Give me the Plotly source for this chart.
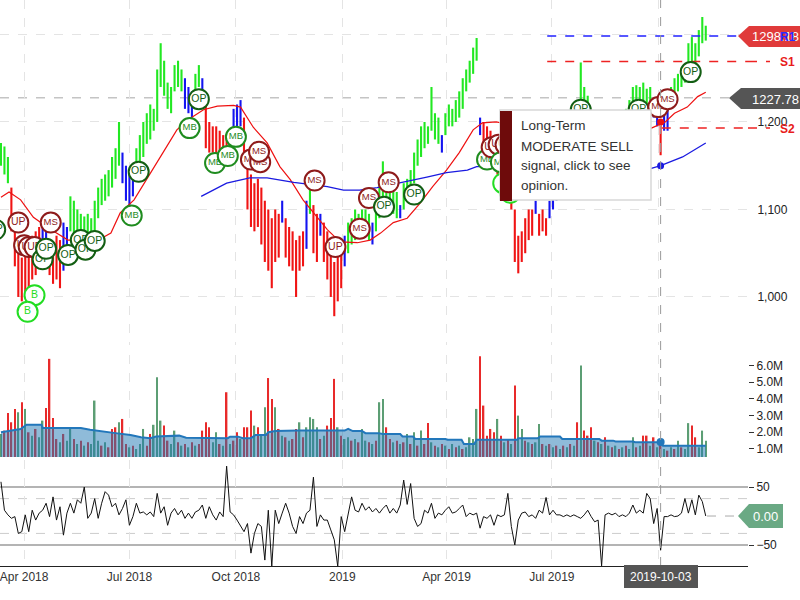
import plotly.graph_objects as go
import pandas as pd

W, H = 800, 600
def px(x): return x / W
def py(y): return 1 - y / H

# ---------------- data ----------------
bar_start = "2018-03-12"
bar_step_days = 3
price_high = [1176,1172,1160,1125,1090,1060,1045,1050,1065,1070,
              1075,1080,1085,1080,1065,1060,1070,1065,1085,1080,
              1115,1110,1100,1095,1092,1095,1090,1110,1125,1135,
              1140,1145,1160,1170,1200,1165,1150,1145,1150,1170,
              1185,1200,1210,1220,1215,1260,1290,1270,1245,1240,
              1265,1270,1260,1250,1240,1235,1255,1265,1250,1220,
              1200,1195,1195,1190,1185,1185,1180,1215,1220,1225,
              1205,1160,1140,1130,1135,1125,1110,1100,1090,1100,
              1095,1110,1090,1080,1075,1065,1070,1075,1110,1130,
              1105,1095,1095,1085,1075,1060,1040,1050,1065,1070,
              1085,1090,1100,1095,1100,1100,1095,1085,1110,1130,
              1155,1135,1130,1125,1120,1105,1130,1135,1145,1165,
              1180,1195,1200,1195,1240,1210,1205,1185,1210,1220,
              1215,1225,1235,1250,1260,1270,1285,1296,1205,1200,
              1195,1190,1185,1180,1170,1160,1150,1140,1100,1070,
              1075,1090,1100,1100,1110,1095,1100,1090,1110,1125,
              1130,1145,1150,1155,1150,1145,1150,1268,1240,1230,
              1210,1190,1195,1200,1190,1185,1180,1195,1200,1205,
              1215,1225,1240,1242,1240,1245,1238,1240,1225,1215,
              1202,1215,1220,1240,1250,1255,1262,1265,1290,1297,
              1290,1305,1320,1310]
price_low = [1150,1140,1130,1075,1035,1000,995,1005,1010,1020,
             1025,1040,1045,1040,1025,1015,1020,1010,1030,1040,
             1075,1065,1070,1065,1068,1068,1065,1075,1090,1105,
             1110,1115,1125,1135,1150,1130,1110,1105,1115,1135,
             1150,1160,1175,1180,1190,1200,1240,1230,1215,1210,
             1235,1240,1235,1215,1210,1205,1230,1240,1215,1170,
             1165,1165,1160,1160,1155,1150,1150,1185,1190,1195,
             1160,1100,1080,1075,1080,1060,1040,1030,1010,1040,
             1045,1085,1045,1035,1030,1000,1030,1035,1055,1095,
             1050,1040,1070,1040,1020,1000,978,995,1010,1035,
             1050,1060,1065,1070,1075,1070,1065,1060,1075,1090,
             1110,1100,1100,1095,1090,1090,1100,1110,1115,1130,
             1150,1160,1170,1175,1190,1180,1175,1165,1185,1195,
             1195,1200,1205,1215,1235,1245,1255,1270,1185,1170,
             1160,1150,1145,1140,1130,1120,1110,1100,1040,1027,
             1040,1050,1065,1070,1095,1070,1075,1070,1090,1100,
             1110,1120,1130,1135,1130,1125,1130,1220,1210,1200,
             1170,1150,1160,1165,1155,1150,1150,1165,1175,1180,
             1190,1200,1210,1215,1215,1220,1215,1215,1205,1195,
             1162,1190,1190,1215,1225,1235,1240,1245,1255,1260,
             1265,1275,1290,1293]
price_trend = ("GGGRRRRRRR" "RRBBRRRRBB" "GGGGGGGGGG" "GGGGGBBBBG" "GGGGGGGGGG"
               "GGGBBBGGBR" "RRRRRRRBBB" "RRRRRRRRRR" "RBRRRRRRBG" "RRBRRRRRRB"
               "GGGGGGGBGG" "GGGGGBGGGG" "GGGGGGGBGG" "GGGGGGGGBR" "RRRRRRRRRR"
               "RRRRBRRRBB" "BGGGGGGGGG" "RRRRRRRBBB" "GGGGGGGGBB" "RBBGGGGGGG"
               "GGGG")

volume_m = [1.9,2.1,3.15,2.6,3.4,3.2,3.8,3.4,2.0,1.8,2.2,1.7,
            2.7,3.45,6.4,2.86,1.6,1.4,1.9,1.5,2.3,1.6,1.3,1.5,
            1.2,1.4,1.3,3.9,1.5,1.2,1.4,1.1,2.2,2.3,2.6,2.8,
            1.3,1.1,1.2,1.0,1.3,2.2,1.2,1.9,2.45,5.3,2.7,2.4,
            1.5,1.3,2.1,1.4,1.2,1.3,1.1,1.4,1.2,1.3,2.1,2.6,
            2.3,1.4,2.0,1.3,1.2,4.4,1.3,1.5,2.0,1.6,2.3,2.3,
            3.3,2.4,2.3,1.8,3.5,5.25,4.0,3.5,2.2,1.8,1.7,1.5,
            1.6,2.2,2.6,1.7,2.3,2.9,2.8,2.3,1.6,1.8,2.4,2.86,
            5.2,2.3,1.8,1.6,1.7,1.5,1.6,1.4,2.2,1.5,1.4,1.3,
            1.5,3.8,4.0,2.3,1.6,1.4,1.5,1.3,1.4,1.9,1.3,2.0,
            1.2,2.1,1.3,2.55,1.4,1.2,1.1,1.3,1.2,1.0,1.3,1.1,
            1.2,1.0,1.1,1.7,1.6,3.4,6.55,3.6,1.8,2.2,2.0,2.8,
            1.8,1.4,1.6,1.3,4.8,3.0,2.2,1.5,1.4,1.3,1.4,2.5,
            1.3,1.2,1.3,1.1,1.2,1.0,1.2,1.1,1.3,1.2,2.6,6.0,
            2.1,1.8,2.3,1.5,1.4,1.3,1.7,1.2,1.1,1.2,1.0,1.1,
            1.2,1.0,1.7,1.1,1.2,1.8,1.8,1.2,1.7,1.1,1.6,1.0,
            0.9,1.1,1.0,1.5,1.1,1.0,2.55,2.4,1.7,1.1,2.1,1.5]
volume_dir = ("GRRRRGRGRGRG" "GRRRRGRGGRGR" "GRGGGRGRRRGR" "RGRGGGRRGGGR"
              "RGGRGRGRGRRR" "RGGRGRGRRGRR" "RGRGGRRGRGRG" "RRGRGGGGRGRR"
              "RGRGGRGRGGRG" "RGGRRGRGRGRG" "RGRRGRGRGRGR" "GRGGGGRRRRRG"
              "RGRGRGGRGRGG" "RGRGRGRGRGRG" "RRRGRGRGRGRG" "RGGRGRRGRGRG"
              "RGRGRGGRRGGG")

oscillator = [59,10,2,-4,-1,-30,-27,2,-27,10,
              -7,5,10,22,-1,33,-7,16,-33,5,
              22,5,28,22,50,-4,5,30,-4,22,
              42,36,16,22,2,13,28,-16,-1,22,
              5,7,2,7,-1,39,5,16,-16,5,
              13,2,10,-4,5,-4,7,10,19,-4,
              16,2,-7,7,-1,86,7,2,-7,-18,
              -27,-13,-64,-30,-13,-18,-76,10,-87,10,
              -13,5,22,5,-18,-30,-1,-13,5,10,
              67,-18,2,-7,-7,-24,-41,-87,-1,-27,
              5,33,10,7,22,10,16,7,13,5,
              13,19,5,13,5,19,62,20,56,-4,
              -18,-13,10,5,22,-4,5,2,10,16,
              5,7,13,19,-1,5,2,5,-21,-1,
              -4,2,-16,2,-1,2,39,-18,-50,-7,
              5,7,-1,2,-4,10,5,32,2,10,
              2,2,-1,2,-1,2,-1,-4,2,10,
              -1,-10,-7,-86,2,5,2,5,-1,2,
              -1,5,19,5,10,5,39,30,-13,13,
              -59,-1,-1,2,-1,0,5,30,5,28,
              2,36,25,0]

ma_short_dates = ["2018-03-12","2018-03-19","2018-03-29","2018-04-09","2018-04-24","2018-05-09",
                  "2018-05-17","2018-05-31","2018-06-15","2018-06-23","2018-07-05","2018-07-19",
                  "2018-07-30","2018-08-11","2018-08-20","2018-09-03","2018-09-15","2018-09-29",
                  "2018-10-05","2018-10-16","2018-10-28","2018-11-08","2018-11-17","2018-11-28",
                  "2018-12-10","2018-12-19","2018-12-30","2019-01-14","2019-01-25","2019-02-03",
                  "2019-02-14","2019-02-26","2019-03-09","2019-03-20","2019-04-01","2019-04-12",
                  "2019-04-24","2019-05-02","2019-05-14","2019-06-01","2019-06-15","2019-07-01",
                  "2019-07-15","2019-08-01","2019-08-15","2019-09-01","2019-09-15","2019-09-25",
                  "2019-10-07","2019-10-15","2019-10-26","2019-11-04","2019-11-11"]
ma_short_vals = [1114,1120,1111,1091,1077,1065,1065,1062,1073,1096,1111,1142,
                 1165,1191,1202,1214,1218,1219,1217,1194,1176,1149,1134,1111,
                 1091,1077,1063,1062,1065,1073,1085,1090,1107,1126,1145,1165,
                 1191,1199,1200,1195,1165,1120,1115,1135,1160,1175,1185,1193,
                 1200,1210,1217,1229,1234]

ma_long_dates = ["2018-09-01","2018-09-23","2018-10-13","2018-10-28","2018-11-20","2018-12-19",
                 "2019-01-02","2019-01-16","2019-01-31","2019-02-23","2019-03-15","2019-04-01",
                 "2019-04-19","2019-04-27","2019-06-15","2019-08-01","2019-09-25","2019-10-03",
                 "2019-10-22","2019-11-11"]
ma_long_vals = [1115,1130,1136,1136,1131,1126,1122,1122,1125,1131,1137,1142,
                1145,1149,1150,1148,1147,1150,1160,1176]

vol_ma_dates = ["2018-03-12","2018-03-29","2018-04-03","2018-04-16","2018-04-17","2018-05-20",
                "2018-05-28","2018-06-06","2018-06-19","2018-07-02","2018-07-11","2018-07-19",
                "2018-07-24","2018-08-13","2018-08-19","2018-09-24","2018-09-26","2018-10-03",
                "2018-10-07","2018-10-14","2018-10-18","2018-10-27","2018-10-29","2018-11-04",
                "2018-11-24","2019-01-03","2019-01-06","2019-01-10","2019-01-18","2019-01-21",
                "2019-02-01","2019-02-05","2019-02-20","2019-02-22","2019-03-03","2019-03-05",
                "2019-03-31","2019-04-02","2019-04-14","2019-04-16","2019-04-25","2019-04-27",
                "2019-06-01","2019-06-02","2019-06-19","2019-06-21","2019-07-08","2019-07-10",
                "2019-08-11","2019-08-13","2019-08-23","2019-08-25","2019-09-09","2019-09-11",
                "2019-10-02","2019-10-05","2019-11-11"]
vol_ma_m = [2.0,2.2,2.45,2.45,2.26,2.26,2.15,2.05,1.95,1.84,1.7,1.65,
            1.75,1.8,1.68,1.65,1.74,1.74,1.65,1.65,1.84,1.84,2.0,2.07,
            2.1,2.1,2.2,2.07,2.07,1.95,1.95,1.9,1.9,1.75,1.75,1.6,
            1.6,1.55,1.55,1.3,1.3,1.55,1.55,1.65,1.65,1.75,1.75,1.6,
            1.6,1.5,1.5,1.45,1.45,1.4,1.4,1.2,1.2]

signal_dates = ["2018-03-07","2018-03-27","2018-04-24","2018-04-01","2018-04-05","2018-04-10",
                "2018-04-17","2018-04-20","2018-05-09","2018-05-20","2018-05-24","2018-06-01",
                "2018-04-10","2018-04-04","2018-07-03","2018-07-09","2018-08-22","2018-08-30",
                "2018-09-13","2018-09-24","2018-10-01","2018-10-14","2018-10-22","2018-10-21",
                "2018-12-08","2018-12-26","2019-01-16","2019-01-24","2019-02-06","2019-02-10",
                "2019-03-04","2019-05-06","2019-05-10","2019-05-16","2019-05-18","2019-05-22",
                "2019-05-20","2019-05-26","2019-07-26","2019-09-14","2019-10-01","2019-10-09",
                "2019-10-29"]
signal_prices = [1077,1085,1085,1059,1057,1057,1043,1055,1048,1065,1054,1064,
                 1002,983,1093,1143,1193,1226,1153,1161,1183,1157,1154,1166,
                 1133,1057,1078,1113,1103,1131,1117,1157,1171,1174,1154,1174,
                 1130,1119,1214,1214,1217,1226,1257]
signal_labels = ["OP","UP","MS","UP","UP","UP","OP","OP","OP","OP","OP","OP",
                 "B","B","MB","OP","MB","OP","MB","MB","MB","MS","MS","MS",
                 "MS","UP","MS","MS","OP","MS","OP","MB","UP","UP","MB","UP",
                 "B","B","OP","OP","MS","MS","OP"]

level_r1, level_s1, level_s2 = 1298.18, 1269, 1193
level_start = "2019-06-27"
level_s2_start = "2019-10-04"
last_price = 1298.18
cross_price = 1227.78
cross_date = "2019-10-03"
cross_ma_short, cross_ma_long, cross_vol_ma = 1200, 1150, 1.42
x_range = ["2018-03-11 04:00", "2019-12-17 12:00"]
x_tick_dates = ["2018-04-01","2018-07-01","2018-10-01","2019-01-01","2019-04-01","2019-07-01","2019-10-01"]
x_tick_text = ["Apr 2018","Jul 2018","Oct 2018","2019","Apr 2019","Jul 2019",""]
vol_ticks = [1, 2, 3, 4, 5, 6]
osc_ticks = [-50, 50]

# ---------------- figure ----------------
bar_dates = pd.date_range(bar_start, periods=len(price_high), freq=f"{bar_step_days}D")
fig = go.Figure()

trend_colors = {"G": "#22e822", "R": "#f01414", "B": "#1414f0"}
for key, col in trend_colors.items():
    xs, ys = [], []
    for d, h, l, c in zip(bar_dates, price_high, price_low, price_trend):
        if c == key:
            xs += [d, d, None]
            ys += [l, h, None]
    fig.add_trace(go.Scatter(x=xs, y=ys, mode="lines", line=dict(color=col, width=2.1),
                             xaxis="x2", yaxis="y", hoverinfo="skip", showlegend=False))

fig.add_trace(go.Scatter(x=ma_short_dates, y=ma_short_vals, mode="lines",
                         line=dict(color="#ee1111", width=1.2), xaxis="x2", yaxis="y", showlegend=False))
fig.add_trace(go.Scatter(x=ma_long_dates, y=ma_long_vals, mode="lines",
                         line=dict(color="#1a1ae0", width=1.3), xaxis="x2", yaxis="y", showlegend=False))

# support / resistance levels
for lv, col, start in [(level_r1, "#2222ff", level_start), (level_s1, "#ee2222", level_start),
                       (level_s2, "#ee2222", level_s2_start)]:
    fig.add_trace(go.Scatter(x=[start, x_range[1]], y=[lv, lv], mode="lines",
                             line=dict(color=col, width=1.5, dash="dash"),
                             xaxis="x2", yaxis="y", showlegend=False))

sig_style = {"OP": ("#135e13", 10.5), "MB": ("#1f8c1f", 9.5), "MS": ("#8e1b1b", 9.5),
             "UP": ("#8e1b1b", 10.5), "B": ("#22dd22", 10.5)}
for i, (d, p, lab) in enumerate(zip(signal_dates, signal_prices, signal_labels)):
    col, fs = sig_style[lab]
    fig.add_trace(go.Scatter(x=[d], y=[p], mode="markers+text", text=[lab],
                             textposition="middle center",
                             textfont=dict(color=col, size=fs, family="Arial"),
                             marker=dict(size=20, color="white", line=dict(color=col, width=2)),
                             xaxis="x2", yaxis="y", showlegend=False))

fig.add_trace(go.Scatter(x=[cross_date], y=[cross_ma_short], mode="markers",
                         marker=dict(size=7, color="#ee1111"), xaxis="x2", yaxis="y", showlegend=False))
fig.add_trace(go.Scatter(x=[cross_date], y=[cross_ma_long], mode="markers",
                         marker=dict(size=7, color="#1a1ae0"), xaxis="x2", yaxis="y", showlegend=False))

# volume
vcolors = ["#e82a2a" if c == "R" else "#5c9e74" for c in volume_dir]
fig.add_trace(go.Bar(x=bar_dates, y=[v * 1e6 for v in volume_m], marker=dict(color=vcolors, line=dict(width=0)),
                     width=1.3 * 86400000, xaxis="x3", yaxis="y2", showlegend=False))
fig.add_trace(go.Scatter(x=vol_ma_dates, y=[v * 1e6 for v in vol_ma_m], mode="lines", fill="tozeroy",
                         line=dict(color="#2277bb", width=2), fillcolor="rgba(31,119,180,0.5)",
                         xaxis="x3", yaxis="y2", showlegend=False))
fig.add_trace(go.Scatter(x=[cross_date], y=[cross_vol_ma * 1e6], mode="markers",
                         marker=dict(size=8, color="#2277bb"), xaxis="x3", yaxis="y2", showlegend=False))

# oscillator
fig.add_trace(go.Scatter(x=bar_dates, y=oscillator, mode="lines", line=dict(color="#111", width=1),
                         xaxis="x", yaxis="y3", showlegend=False))

font_main = "Arial, Liberation Sans, sans-serif"
xcommon = dict(type="date", showgrid=True, gridcolor="#e4e4e4", griddash="dash", gridwidth=1,
               tickvals=x_tick_dates, ticktext=x_tick_text, zeroline=False, automargin=False,
               domain=[0, px(748)], ticks="")
fig.update_layout(
    template="none", width=W, height=H, margin=dict(l=0, r=0, t=0, b=0),
    paper_bgcolor="white", plot_bgcolor="white", font=dict(family=font_main, size=12, color="#333"),
    barmode="overlay", showlegend=False, hovermode=False,
    xaxis=dict(**xcommon, anchor="y3", range=x_range, showline=True, linecolor="#222", linewidth=1,
               tickfont=dict(size=12, color="#333"), ticklabeloverflow="allow"),
    xaxis2=dict(**xcommon, anchor="y", matches="x", showticklabels=False),
    xaxis3=dict(**xcommon, anchor="y2", matches="x", showticklabels=False),
    yaxis=dict(domain=[py(345), 1], anchor="x2", side="right", range=[945.1, 1339.4],
               tickvals=[1000, 1100, 1200, 1300], tickformat=",", showgrid=True, gridcolor="#e4e4e4",
               griddash="dash", zeroline=False, ticks="outside", ticklen=6,
               tickcolor="rgba(0,0,0,0)", automargin=False,
               tickfont=dict(size=12, color="#222")),
    yaxis2=dict(domain=[py(457), py(355)], anchor="x3", side="right", range=[0.52e6, 6.63e6],
                tickvals=[v * 1e6 for v in vol_ticks], ticktext=[f"{v:.1f}M" for v in vol_ticks],
                showgrid=False, zeroline=False, ticks="outside", ticklen=5, tickcolor="#333",
                automargin=False, tickfont=dict(size=12, color="#222")),
    yaxis3=dict(domain=[py(566), py(460)], anchor="x", side="right", range=[-86.2, 96.6],
                tickvals=osc_ticks, showgrid=False, zeroline=False, ticks="outside", ticklen=5,
                tickcolor="#333", automargin=False, tickfont=dict(size=12, color="#222")),
)

shapes = []
# oscillator bands
for v, col, wd, dash in [(50, "#b4b4b4", 2, "solid"), (-50, "#b4b4b4", 2, "solid"),
                         (30, "#cccccc", 1, "dash"), (-30, "#cccccc", 1, "dash")]:
    shapes.append(dict(type="line", xref="paper", yref="y3", x0=0, x1=px(748), y0=v, y1=v,
                       line=dict(color=col, width=wd, dash=dash), layer="below"))
shapes.append(dict(type="line", xref="paper", yref="y3", x0=px(707), x1=px(740), y0=0, y1=0,
                   line=dict(color="#aaa", width=1, dash="dash")))
# crosshair
shapes.append(dict(type="line", xref="x", yref="paper", x0=cross_date, x1=cross_date, y0=py(566), y1=1,
                   line=dict(color="#999", width=1, dash="dash")))
shapes.append(dict(type="line", xref="paper", yref="y", x0=0, x1=px(730), y0=cross_price, y1=cross_price,
                   line=dict(color="#c4c4c4", width=1.5, dash="dash"), layer="below"))
# level extensions into the label area
for lv, col in [(level_r1, "#2222ff"), (level_s1, "#ee2222"), (level_s2, "#ee2222")]:
    shapes.append(dict(type="line", xref="paper", yref="y", x0=px(748), x1=px(770), y0=lv, y1=lv,
                       line=dict(color=col, width=1.5, dash="dash")))

def P(x, y):
    return f"{px(x)},{py(y)}"

# right side value tags
shapes.append(dict(type="path", xref="paper", yref="paper",
                   path=f"M {P(738,36)} L {P(749,26)} L {P(800,26)} L {P(800,47)} L {P(749,47)} Z",
                   fillcolor="#e03a3a", line=dict(width=0)))
shapes.append(dict(type="path", xref="paper", yref="paper",
                   path=f"M {P(729,98)} L {P(741,88)} L {P(800,88)} L {P(800,109)} L {P(741,109)} Z",
                   fillcolor="#555555", line=dict(width=0)))
shapes.append(dict(type="path", xref="paper", yref="paper",
                   path=f"M {P(738,516)} L {P(749,504)} L {P(783,504)} L {P(783,528)} L {P(749,528)} Z",
                   fillcolor="#6aa984", line=dict(width=0)))
shapes.append(dict(type="rect", xref="paper", yref="paper", x0=px(624), x1=px(698), y0=py(588), y1=py(565),
                   fillcolor="#555555", line=dict(width=0)))
# tooltip box
shapes.append(dict(type="rect", xref="paper", yref="paper", x0=px(500), x1=px(651), y0=py(200), y1=py(110),
                   fillcolor="white", line=dict(color="#d8d8d8", width=1.5), layer="above"))
shapes.append(dict(type="rect", xref="paper", yref="paper", x0=px(500), x1=px(512), y0=py(201), y1=py(111),
                   fillcolor="#6e0b0b", line=dict(width=0), layer="above"))
fig.update_layout(shapes=shapes)

ann = []
def A(x, y, text, color, size, anchor="center", bold=False):
    t = f"<b>{text}</b>" if bold else text
    ann.append(dict(x=px(x), y=py(y), xref="paper", yref="paper", text=t, showarrow=False,
                    xanchor=anchor, yanchor="middle", font=dict(color=color, size=size, family=font_main)))

A(775, 37, f"{last_price:.2f}", "white", 13)
A(778, 37, "R1", "#2a2aff", 12, anchor="left", bold=True)
A(778, 62, "S1", "#e81c1c", 12, anchor="left", bold=True)
A(775, 99, f"{cross_price:.2f}", "white", 13)
A(778, 129, "S2", "#e81c1c", 12, anchor="left", bold=True)
A(765, 516.5, "0.00", "white", 13)
A(661, 577, cross_date, "white", 12)
for yy, line in zip([126, 146, 166, 185], ["Long-Term", "MODERATE SELL", "signal, click to see", "opinion."]):
    A(519, yy, line, "#333", 13.5, anchor="left")
fig.update_layout(annotations=ann)

fig.write_html("out.html")
